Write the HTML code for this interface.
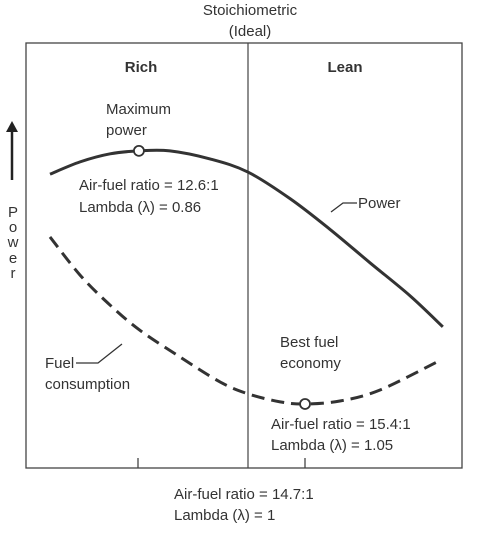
<!DOCTYPE html>
<html><head><meta charset="utf-8"><style>
html,body{margin:0;padding:0;background:#fff;width:486px;height:545px;overflow:hidden}
svg text{font-family:"Liberation Sans",sans-serif;fill:#333;font-size:15px}
</style></head><body>
<svg id="chart" width="486" height="545" viewBox="0 0 486 545" xmlns="http://www.w3.org/2000/svg">
<g id="static">
<text x="250" y="15" text-anchor="middle">Stoichiometric</text>
<text x="250" y="36" text-anchor="middle">(Ideal)</text>
<rect x="26" y="43" width="436" height="425" fill="none" stroke="#444" stroke-width="1.3"/>
<line x1="248" y1="43" x2="248" y2="468" stroke="#444" stroke-width="1.2"/>
<line x1="138" y1="458" x2="138" y2="468" stroke="#444" stroke-width="1.3"/>
<line x1="305" y1="458" x2="305" y2="468" stroke="#444" stroke-width="1.3"/>
<text x="141" y="72" text-anchor="middle" font-weight="bold">Rich</text>
<text x="345" y="72" text-anchor="middle" font-weight="bold">Lean</text>
<text x="106" y="114">Maximum</text>
<text x="106" y="135">power</text>
<text x="79" y="190">Air-fuel ratio = 12.6:1</text>
<text x="79" y="212">Lambda (λ) = 0.86</text>
<line x1="12" y1="180" x2="12" y2="130" stroke="#222" stroke-width="2.5"/>
<polygon points="6,132 18,132 12,121" fill="#222"/>
<g>
<text x="13" y="217" text-anchor="middle">P</text>
<text x="13" y="232" text-anchor="middle">o</text>
<text x="13" y="247" text-anchor="middle">w</text>
<text x="13" y="263" text-anchor="middle">e</text>
<text x="13" y="278" text-anchor="middle">r</text>
</g>
<polyline points="331,212 343,203 357,203" fill="none" stroke="#333" stroke-width="1.3"/>
<text x="358" y="208">Power</text>
<polyline points="76,363 98,363 122,344" fill="none" stroke="#333" stroke-width="1.3"/>
<text x="45" y="368">Fuel</text>
<text x="45" y="389">consumption</text>
<text x="280" y="347">Best fuel</text>
<text x="280" y="368">economy</text>
<text x="271" y="429">Air-fuel ratio = 15.4:1</text>
<text x="271" y="450">Lambda (λ) = 1.05</text>
<text x="174" y="499">Air-fuel ratio = 14.7:1</text>
<text x="174" y="520">Lambda (λ) = 1</text>
</g>
<g id="marks"></g>
</svg>
<script>
const mixturePos = [5.5,12.4,19.3,25.9,33.0,42.2,50.9,60.6,69.7,78.9,88.1,95.6];
const powerValues = [69.3,72.2,74.1,74.8,74.8,72.9,69.8,63.5,56.3,48.4,40.6,33.3];
const fuelPos = [5.5,12.4,19.3,26.1,35.3,44.5,50.9,58.3,64.0,72.0,81.2,95.2];
const fuelValues = [54.5,45.5,38.4,32.5,26.2,20.3,17.5,15.6,15.1,15.8,18.4,25.5];
const maxPowerPoint = [25.9,74.8];
const bestEconomyPoint = [64.0,15.1];

function sx(v){return 26 + v*4.36;}
function sy(v){return 468 - v*4.24;}
function pathFrom(xs, ys){
  const p = xs.map((x,i)=>[sx(x),sy(ys[i])]);
  let d = 'M'+p[0][0]+','+p[0][1];
  for(let i=0;i<p.length-1;i++){
    const p0=p[Math.max(0,i-1)],p1=p[i],p2=p[i+1],p3=p[Math.min(p.length-1,i+2)];
    const c1=[p1[0]+(p2[0]-p0[0])/6,p1[1]+(p2[1]-p0[1])/6];
    const c2=[p2[0]-(p3[0]-p1[0])/6,p2[1]-(p3[1]-p1[1])/6];
    d+=' C'+c1[0]+','+c1[1]+' '+c2[0]+','+c2[1]+' '+p2[0]+','+p2[1];
  }
  return d;
}
const NS='http://www.w3.org/2000/svg';
const g=document.getElementById('marks');
const pw=document.createElementNS(NS,'path');
pw.setAttribute('d',pathFrom(mixturePos,powerValues));
pw.setAttribute('fill','none');pw.setAttribute('stroke','#333');pw.setAttribute('stroke-width','3');


g.appendChild(pw);
const fc=document.createElementNS(NS,'path');
fc.setAttribute('d',pathFrom(fuelPos,fuelValues));
fc.setAttribute('fill','none');fc.setAttribute('stroke','#333');fc.setAttribute('stroke-width','3');
fc.setAttribute('stroke-dasharray','13 7');


g.appendChild(fc);
const c1=document.createElementNS(NS,'circle');
c1.setAttribute('cx',sx(maxPowerPoint[0]));c1.setAttribute('cy',sy(maxPowerPoint[1]));c1.setAttribute('r','5');
c1.setAttribute('fill','#fff');c1.setAttribute('stroke','#333');c1.setAttribute('stroke-width','1.8');


g.appendChild(c1);
const c2=document.createElementNS(NS,'circle');
c2.setAttribute('cx',sx(bestEconomyPoint[0]));c2.setAttribute('cy',sy(bestEconomyPoint[1]));c2.setAttribute('r','5');
c2.setAttribute('fill','#fff');c2.setAttribute('stroke','#333');c2.setAttribute('stroke-width','1.8');


g.appendChild(c2);
</script>
</body></html>
